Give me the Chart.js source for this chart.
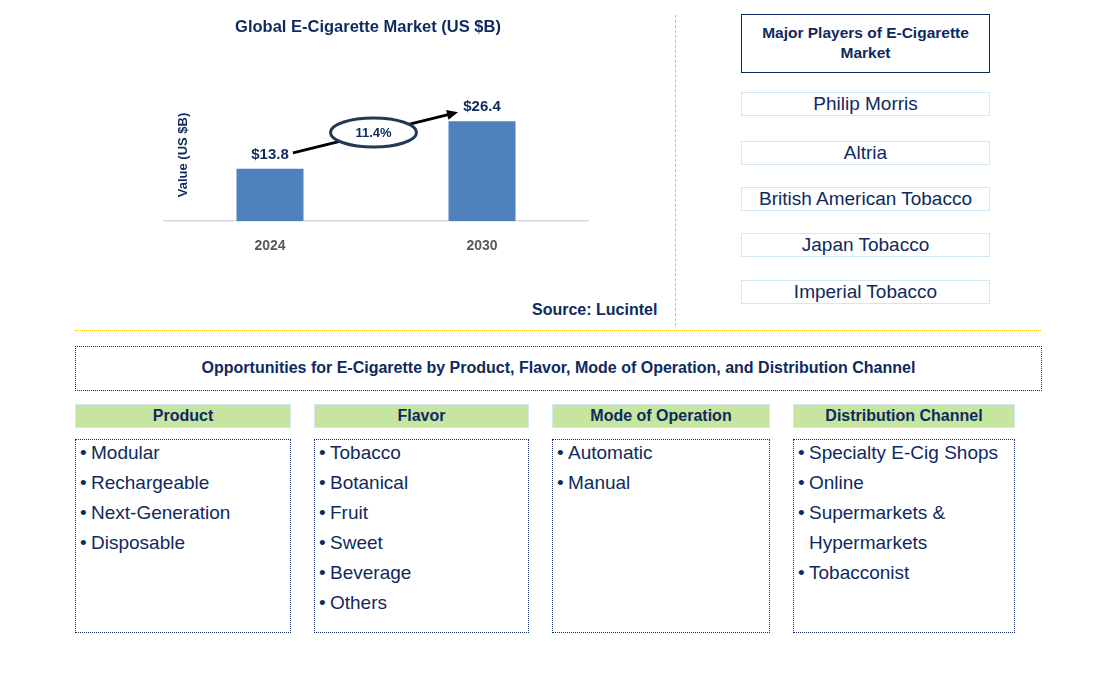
<!DOCTYPE html>
<html>
<head>
<meta charset="utf-8">
<script src="https://cdn.jsdelivr.net/npm/chart.js@4.4.1/dist/chart.umd.min.js"></script>
<style>
  body { margin: 0; background: #fff; font-family: "Liberation Sans", Arial, sans-serif; color: #0f2a5e; }
  #page { position: relative; width: 1106px; height: 673px; overflow: hidden; }
  .abs { position: absolute; box-sizing: border-box; }
  #chartBox { left: 150px; top: 0; width: 450px; height: 260px; }
  .vline { left: 675px; top: 15px; width: 0; height: 311px; border-left: 1.5px dashed #ffc000; }
  .hline { left: 75px; top: 330px; width: 966px; height: 0; border-top: 1.5px dotted #ffc000; }
  .source { left: 532px; top: 301px; font-weight: bold; font-size: 16px; }
  .playersHead { left: 741px; top: 14px; width: 249px; height: 59px; border: 1.5px solid #0f2a5e;
    font-weight: bold; font-size: 15.5px; text-align: center; padding-top: 8px; line-height: 20px; }
  .player { left: 741px; width: 249px; height: 24px; border: 1.5px solid #d2e6f4;
    font-size: 19px; text-align: center; line-height: 22px; }
  .oppHead { left: 75px; top: 346px; width: 967px; height: 45px; border: 1.5px dotted #0f2a5e;
    font-weight: bold; font-size: 16px; text-align: center; line-height: 42px; }
  .segHead { top: 404px; height: 24px; background: #c6e6a0; border: 1.5px solid #d2e6f4;
    font-weight: bold; font-size: 16px; text-align: center; line-height: 21px; }
  .segBox { top: 439px; height: 194px; border: 1.5px dotted #0f2a5e; }
  .segBox ul { list-style: none; margin: 0; padding: 0 4px 0 4px; position: relative; top: -2px; }
  .segBox li { display: flex; font-size: 19px; line-height: 30px; }
  .segBox li .b { width: 11px; flex: none; }
</style>
</head>
<body>
<div id="page">
  <div class="abs" id="chartBox"><canvas id="marketChart" width="450" height="260"></canvas></div>
  <div class="abs vline"></div>
  <div class="abs hline"></div>
  <div class="abs source">Source: Lucintel</div>
  <div class="abs playersHead">Major Players of E-Cigarette<br>Market</div>
  <div id="players"></div>
  <div class="abs oppHead">Opportunities for E-Cigarette by Product, Flavor, Mode of Operation, and Distribution Channel</div>
  <div id="segments"></div>
</div>
<script>
// --- Chart data ---
const years = ['2024', '2030'];
const marketValues = [13.8, 26.4];
const valueLabels = ['$13.8', '$26.4'];
const cagrLabel = '11.4%';
const chartTitle = 'Global E-Cigarette Market (US $B)';
const yTitle = 'Value (US $B)';

// --- Side panel data ---
const players = ['Philip Morris', 'Altria', 'British American Tobacco', 'Japan Tobacco', 'Imperial Tobacco'];
const playerTops = [92, 141, 187, 233, 280];

const segmentNames = ['Product', 'Flavor', 'Mode of Operation', 'Distribution Channel'];
const productItems = ['Modular', 'Rechargeable', 'Next-Generation', 'Disposable'];
const flavorItems = ['Tobacco', 'Botanical', 'Fruit', 'Sweet', 'Beverage', 'Others'];
const modeItems = ['Automatic', 'Manual'];
const channelItems = ['Specialty E-Cig Shops', 'Online', 'Supermarkets & Hypermarkets', 'Tobacconist'];
const segmentItems = [productItems, flavorItems, modeItems, channelItems];
const segmentLefts = [75, 314, 552, 793];
const segmentWidths = [216, 215, 218, 222];

const NAVY = '#0f2a5e';
const FONT = '"Liberation Sans", Arial';

// players boxes
const playersDiv = document.getElementById('players');
players.forEach((p, i) => {
    const d = document.createElement('div');
    d.className = 'abs player';
    d.style.top = playerTops[i] + 'px';
    d.innerText = p;
    playersDiv.appendChild(d);
});

// segment headers + lists
const segDiv = document.getElementById('segments');
segmentNames.forEach((name, i) => {
    const h = document.createElement('div');
    h.className = 'abs segHead';
    h.style.left = segmentLefts[i] + 'px';
    h.style.width = segmentWidths[i] + 'px';
    h.innerText = name;
    segDiv.appendChild(h);

    const box = document.createElement('div');
    box.className = 'abs segBox';
    box.style.left = segmentLefts[i] + 'px';
    box.style.width = segmentWidths[i] + 'px';
    const ul = document.createElement('ul');
    segmentItems[i].forEach(t => {
        const li = document.createElement('li');
        li.innerHTML = `<span class="b">•</span><span></span>`;
        li.lastChild.innerText = t;
        ul.appendChild(li);
    });
    box.appendChild(ul);
    segDiv.appendChild(box);
});

// --- title, labels, CAGR arrow + ellipse, y title ---
const annotPlugin = {
    id: 'annot',
    afterDatasetsDraw(chart) {
        const ctx = chart.ctx;
        const bars = chart.getDatasetMeta(0).data;
        ctx.save();
        ctx.textAlign = 'center';
        ctx.textBaseline = 'middle';

        // chart title (a bit left of the plot centre, like the original)
        ctx.fillStyle = NAVY;
        ctx.font = `bold 16.5px ${FONT}`;
        ctx.fillText(chartTitle, 218, 27);

        // value labels
        ctx.font = `bold 15px ${FONT}`;
        bars.forEach((b, i) => ctx.fillText(valueLabels[i], b.x, b.y - 14));

        // arrow
        const x1 = bars[0].x + 23, y1 = bars[0].y - 16;
        const x2 = bars[1].x - 24, y2 = bars[1].y - 9;
        const ang = Math.atan2(y2 - y1, x2 - x1);
        ctx.strokeStyle = '#000';
        ctx.lineWidth = 3;
        ctx.beginPath();
        ctx.moveTo(x1, y1);
        ctx.lineTo(x2 - 8 * Math.cos(ang), y2 - 8 * Math.sin(ang));
        ctx.stroke();
        ctx.fillStyle = '#000';
        ctx.beginPath();
        ctx.moveTo(x2, y2);
        ctx.lineTo(x2 - 11 * Math.cos(ang) + 5 * Math.sin(ang), y2 - 11 * Math.sin(ang) - 5 * Math.cos(ang));
        ctx.lineTo(x2 - 11 * Math.cos(ang) - 5 * Math.sin(ang), y2 - 11 * Math.sin(ang) + 5 * Math.cos(ang));
        ctx.closePath();
        ctx.fill();

        // ellipse with CAGR
        const cx = (x1 + x2) / 2 - 2, cy = (y1 + y2) / 2;
        ctx.fillStyle = '#fff';
        ctx.strokeStyle = '#1f3a57';
        ctx.lineWidth = 3;
        ctx.beginPath();
        ctx.ellipse(cx, cy, 43, 14.5, 0, 0, Math.PI * 2);
        ctx.fill();
        ctx.stroke();
        ctx.fillStyle = NAVY;
        ctx.font = `bold 13px ${FONT}`;
        ctx.fillText(cagrLabel, cx, cy + 1);

        // y axis title
        ctx.translate(33, 155);
        ctx.rotate(-Math.PI / 2);
        ctx.font = `bold 13px ${FONT}`;
        ctx.fillText(yTitle, 0, 0);
        ctx.restore();
    }
};

new Chart(document.getElementById('marketChart'), {
    type: 'bar',
    data: {
        labels: years,
        datasets: [{
            data: marketValues,
            backgroundColor: '#4f81bd',
            barPercentage: 0.316,
            categoryPercentage: 1
        }]
    },
    plugins: [annotPlugin],
    options: {
        responsive: false,
        maintainAspectRatio: false,
        animation: false,
        layout: { padding: { top: 88.7, left: 14, right: 12, bottom: 9 } },
        plugins: {
            legend: { display: false },
            tooltip: { enabled: false },
            title: { display: false }
        },
        scales: {
            x: {
                grid: { display: false },
                border: { display: true, color: '#d9d9d9', width: 1.5 },
                ticks: { color: '#595959', padding: 9, font: { family: FONT, size: 14, weight: 'bold' } },
                afterFit: axis => { axis.height = 30; }
            },
            y: { display: false, min: 0, max: 35 }
        }
    }
});
</script>
</body>
</html>
